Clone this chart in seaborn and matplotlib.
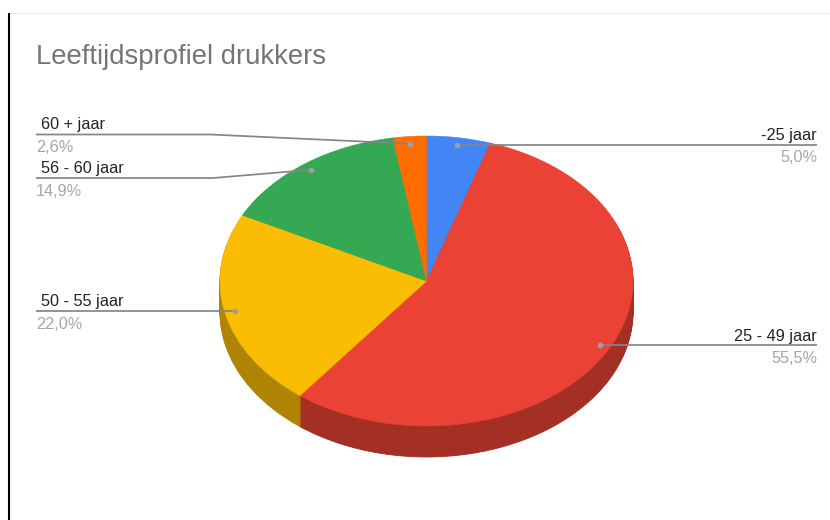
import numpy as np
import matplotlib
matplotlib.use("Agg")
import matplotlib.pyplot as plt
import seaborn as sns

categories = ["-25 jaar", "25 - 49 jaar", "50 - 55 jaar", "56 - 60 jaar", "60 + jaar"]
values = [5.0, 55.5, 22.0, 14.9, 2.6]
hex_colors = ["#4285F4", "#EA4335", "#FBBC04", "#34A853", "#FF6D01"]

W, H = 830, 520
# top face of the pie in pixels
CX, CY, RX, RY = 426.5, 281, 206.5, 145
DEPTH = 31

sns.set_theme(style="white")
plt.rcParams["font.family"] = ["Liberation Sans", "DejaVu Sans"]

colors = sns.color_palette(hex_colors)
dark = [tuple(np.array(c) * 0.7) for c in colors]

fig = plt.figure(figsize=(W / 100, H / 100), dpi=100, facecolor="white")

# axes sits exactly round the squashed pie, the wall goes below it
pad = 2
left = (CX - RX - pad) / W
bottom = 1 - (CY + RY + DEPTH + pad) / H
ax = fig.add_axes([left, bottom, (2 * RX + 2 * pad) / W, (2 * RY + DEPTH + 2 * pad) / H])


def draw_layer(cols, offset, lw):
    wedges, _ = ax.pie(values, colors=cols, startangle=90, counterclock=False, center=(0, -offset / RY))
    for w in wedges:
        # same colour edge hides the seams between slices
        w.set_edgecolor(w.get_facecolor())
        w.set_linewidth(lw)


for d in range(DEPTH, 0, -1):
    draw_layer(dark, d, 0.6)
draw_layer(colors, 0, 0.4)

ax.set_aspect("auto")
ax.set_xlim(-1 - pad / RX, 1 + pad / RX)
ax.set_ylim(-1 - (DEPTH + pad) / RY, 1 + pad / RY)
ax.axis("off")

# overlay in pixel coordinates for lines and texts
ov = fig.add_axes([0, 0, 1, 1], facecolor="none")
ov.set_xlim(0, W)
ov.set_ylim(H, 0)
ov.axis("off")

ov.plot([8.8, 8.8], [13, H], color="black", lw=1.5, solid_capstyle="butt")
ov.plot([9.5, W], [12.5, 12.5], color="#eeeeee", lw=0.8)

ov.text(36, 57.5, "Leeftijdsprofiel drukkers", fontsize=19.8, color="#757575", va="center", ha="left")

# where each leader line leaves the label: (x end, line y, elbow x, side)
leaders = [
    (817, 144.5, None, "right"),
    (817, 345, None, "right"),
    (36, 311, None, "left"),
    (36, 178, 213, "left"),
    (36, 134.5, 210, "left"),
]

mid = (np.cumsum(values) - np.array(values) / 2) / sum(values) * 2 * np.pi
for cat, val, ang, (xe, ly, elbow, side) in zip(categories, values, mid, leaders):
    px = CX + RX * 0.95 * np.sin(ang)
    py = CY - RY * 0.95 * np.cos(ang)
    xs = [xe] + ([elbow] if elbow else []) + [px]
    ys = [ly] + ([ly] if elbow else []) + [py if elbow else ly]
    ov.plot(xs, ys, color="#858585", lw=1.25, solid_capstyle="butt", zorder=3)
    ov.plot([px], [py], "o", ms=4, color="#9e9e9e", mec="none", zorder=4)
    pct = f"{val:.1f}%".replace(".", ",")
    if side == "right":
        ov.text(xe, ly - 4.5, cat, fontsize=11.7, color="#222222", ha="right", va="baseline")
        ov.text(xe, ly + 18, pct, fontsize=11.7, color="#a6a6a6", ha="right", va="baseline")
    else:
        ov.text(xe + 5, ly - 5, cat, fontsize=11.7, color="#222222", ha="left", va="baseline")
        ov.text(xe, ly + 18, pct, fontsize=11.7, color="#a6a6a6", ha="left", va="baseline")

fig.savefig("out.png", dpi=100)
